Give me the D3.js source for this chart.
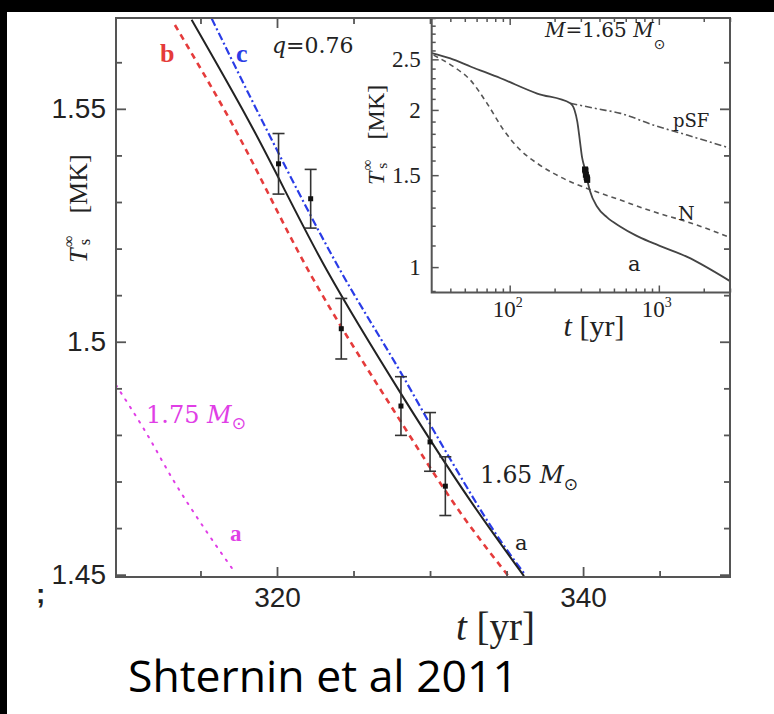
<!DOCTYPE html>
<html>
<head>
<meta charset="utf-8">
<script src="https://cdn.jsdelivr.net/npm/d3@7"></script>
<style>
  body { margin: 0; background: #fff; }
  svg { display: block; }
</style>
</head>
<body>
<svg id="chart" width="774" height="714"></svg>
<script>
// ---- Observations: age (yr), surface temperature (MK), 1-sigma error ----
const obsAge  = [320.1, 322.2, 324.2, 328.1, 330.0, 331.0];
const obsTemp = [1.5382, 1.5307, 1.5028, 1.4862, 1.4785, 1.4690];
const obsErr  = [0.0065, 0.0063, 0.0065, 0.0063, 0.0063, 0.0063];

// ---- Main panel cooling curves (q = 0.76) ----
// a: 1.65 Msun, solid black
const curveAAge  = [314.42, 318.12, 323.25, 328.15, 332.61, 336.14];
const curveATemp = [1.5691, 1.5476, 1.5154, 1.4886, 1.4660, 1.4497];
// b: dashed red
const curveBAge  = [313.33, 316.93, 322.27, 327.60, 332.18, 335.12];
const curveBTemp = [1.5680, 1.5476, 1.5140, 1.4854, 1.4624, 1.4497];
// c: dash-dot blue
const curveCAge  = [315.73, 319.22, 324.12, 328.00, 331.09, 334.58, 336.14];
const curveCTemp = [1.5694, 1.5462, 1.5154, 1.4939, 1.4761, 1.4574, 1.4503];
// a: 1.75 Msun, dotted magenta
const curveMAge  = [309.48, 311.48, 313.22, 315.18, 317.14];
const curveMTemp = [1.4907, 1.4803, 1.4703, 1.4603, 1.4510];

// Main panel ticks
const xMajorTicks = [320, 340];
const xMinorTicks = [315, 325, 330, 335, 345];
const yMajorTicks = [1.45, 1.50, 1.55];
const yMinorTicks = [1.46, 1.47, 1.48, 1.49, 1.51, 1.52, 1.53, 1.54, 1.56];

// ---- Inset: full cooling history, M = 1.65 Msun ----
const insetAAge  = [30, 40, 55, 87, 153, 255, 272, 284, 296, 306, 314, 320, 331, 345, 386, 450, 553, 700, 925, 1550, 3000];
const insetATemp = [2.57, 2.51, 2.42, 2.30, 2.15, 2.06, 2.00, 1.90, 1.74, 1.62, 1.57, 1.535, 1.47, 1.40, 1.305, 1.245, 1.195, 1.15, 1.11, 1.046, 0.94];
const insetPSFAge  = [255, 386, 553, 925, 1550, 3000];
const insetPSFTemp = [2.06, 2.01, 1.97, 1.87, 1.79, 1.69];
const insetNAge  = [30.9, 42.1, 54.5, 70.5, 91.1, 118, 153, 197, 255, 330, 553, 925, 1549, 3000];
const insetNTemp = [2.547, 2.419, 2.281, 2.059, 1.830, 1.675, 1.580, 1.512, 1.457, 1.415, 1.344, 1.276, 1.221, 1.140];

const insetXMajor = [100, 1000];
const insetXMinor = [40, 50, 60, 70, 80, 90, 200, 300, 400, 500, 600, 700, 800, 900, 2000, 3000];
const insetYMajor = [1, 1.5, 2, 2.5];
const insetYMinor = [0.9, 1.1, 1.2, 1.3, 1.4, 1.6, 1.7, 1.8, 1.9, 2.1, 2.2, 2.3, 2.4, 2.6, 2.7, 2.8, 2.9, 3.0];

// ---- Layout ----
const W = 774, H = 714;
const M = { left: 116, right: 730, top: 18, bottom: 577 };
const INS = { left: 431.7, right: 730, top: 18, bottom: 292.5 };

const AXIS = "#555";
const INK = "#222";
const RED = "#e53b3b", BLUE = "#2a3ce6", MAG = "#e03ee6";
const SANS = "'Liberation Sans', Arial, Helvetica, sans-serif";
const SERIF = "'Liberation Serif', 'Times New Roman', serif";
const WSERIF = "'DejaVu Serif', serif";
const SYM = "'DejaVu Sans', sans-serif";

const svg = d3.select("#chart");
svg.append("rect").attr("width", W).attr("height", H).attr("fill", "#fff");

const x = d3.scaleLinear().domain([309.48, 349.6]).range([M.left, M.right]);
const y = d3.scaleLinear().domain([1.4495, 1.5695]).range([M.bottom, M.top]);

svg.append("defs").append("clipPath").attr("id", "mainClip")
  .append("rect").attr("x", M.left).attr("y", M.top)
  .attr("width", M.right - M.left).attr("height", M.bottom - M.top);

// ---- Main panel curves ----
const zipPts = (a, b) => a.map((v, i) => [v, b[i]]);
const mainLine = d3.line().x(d => x(d[0])).y(d => y(d[1])).curve(d3.curveMonotoneX);
const curves = svg.append("g").attr("clip-path", "url(#mainClip)");

curves.append("path").datum(zipPts(curveMAge, curveMTemp)).attr("d", mainLine)
  .attr("fill", "none").attr("stroke", MAG).attr("stroke-width", 2)
  .attr("stroke-dasharray", "1.6 7").attr("stroke-linecap", "round");
curves.append("path").datum(zipPts(curveBAge, curveBTemp)).attr("d", mainLine)
  .attr("fill", "none").attr("stroke", RED).attr("stroke-width", 2.6)
  .attr("stroke-dasharray", "6 5");
curves.append("path").datum(zipPts(curveCAge, curveCTemp)).attr("d", mainLine)
  .attr("fill", "none").attr("stroke", BLUE).attr("stroke-width", 2.2)
  .attr("stroke-dasharray", "8 3 2 3");
curves.append("path").datum(zipPts(curveAAge, curveATemp)).attr("d", mainLine)
  .attr("fill", "none").attr("stroke", INK).attr("stroke-width", 2);

// ---- Observations with error bars ----
const obs = obsAge.map((t, i) => ({ t, T: obsTemp[i], e: obsErr[i] }));
const eb = svg.append("g").attr("stroke", "#333").attr("stroke-width", 1.6);
obs.forEach(d => {
  const cx = x(d.t), y0 = y(d.T - d.e), y1 = y(d.T + d.e);
  eb.append("line").attr("x1", cx).attr("x2", cx).attr("y1", y0).attr("y2", y1);
  eb.append("line").attr("x1", cx - 6).attr("x2", cx + 6).attr("y1", y0).attr("y2", y0);
  eb.append("line").attr("x1", cx - 6).attr("x2", cx + 6).attr("y1", y1).attr("y2", y1);
});
svg.append("g").selectAll("rect").data(obs).join("rect")
  .attr("x", d => x(d.t) - 2.5).attr("y", d => y(d.T) - 2.5)
  .attr("width", 5).attr("height", 5).attr("fill", "#111");

// ---- Main axes (ticks point inward) ----
function styleAxis(g) {
  g.select(".domain").remove();
  g.selectAll(".tick line").attr("stroke", AXIS).attr("stroke-width", 1.8);
  g.selectAll(".tick text").attr("fill", INK).attr("font-family", SANS).attr("font-size", 28);
}
const fmtY = d => d3.format(".2~f")(d);

svg.append("g").attr("transform", `translate(${M.left},0)`)
  .call(d3.axisLeft(y).tickValues(yMinorTicks).tickSize(-6).tickFormat(""))
  .call(styleAxis);
svg.append("g").attr("transform", `translate(${M.left},0)`)
  .call(d3.axisLeft(y).tickValues(yMajorTicks).tickSize(-10).tickPadding(10).tickFormat(fmtY))
  .call(styleAxis);
svg.append("g").attr("transform", `translate(0,${M.bottom})`)
  .call(d3.axisBottom(x).tickValues(xMinorTicks).tickSize(-6).tickFormat(""))
  .call(styleAxis);
svg.append("g").attr("transform", `translate(0,${M.bottom})`)
  .call(d3.axisBottom(x).tickValues(xMajorTicks).tickSize(-10).tickPadding(10).tickFormat(d3.format("d")))
  .call(styleAxis);
svg.append("g").attr("transform", `translate(0,${M.top})`)
  .call(d3.axisTop(x).tickValues(xMinorTicks).tickSize(-6).tickFormat(""))
  .call(styleAxis);
svg.append("g").attr("transform", `translate(0,${M.top})`)
  .call(d3.axisTop(x).tickValues(xMajorTicks).tickSize(-10).tickFormat(""))
  .call(styleAxis);

// ---- Main annotations ----
function sunLabel(g, px, py, num, size, color, sunSize, sunDy) {
  const t = g.append("text").attr("x", px).attr("y", py)
    .attr("font-family", WSERIF).attr("font-size", size).attr("fill", color);
  t.append("tspan").text(num + " ");
  t.append("tspan").attr("font-style", "italic").text("M");
  t.append("tspan").attr("font-family", SYM).attr("font-size", sunSize).attr("dy", sunDy).text("\u2299");
  return t;
}
const ann = svg.append("g");
ann.append("text").attr("x", 160).attr("y", 62).attr("font-family", SERIF)
  .attr("font-weight", "bold").attr("font-size", 26).attr("fill", RED).text("b");
ann.append("text").attr("x", 236).attr("y", 62).attr("font-family", SERIF)
  .attr("font-weight", "bold").attr("font-size", 26).attr("fill", BLUE).text("c");
const qt = ann.append("text").attr("x", 272).attr("y", 53).attr("font-family", WSERIF)
  .attr("font-size", 22).attr("fill", INK);
qt.append("tspan").attr("font-style", "italic").text("q");
qt.append("tspan").text("=0.76");

sunLabel(ann, 146, 423, "1.75", 24, MAG, 17, 6);
ann.append("text").attr("x", 230).attr("y", 541).attr("font-family", SERIF)
  .attr("font-weight", "bold").attr("font-size", 23).attr("fill", MAG).text("a");
sunLabel(ann, 480, 483, "1.65", 23.5, INK, 17, 7);
ann.append("text").attr("x", 515).attr("y", 550).attr("font-family", WSERIF)
  .attr("font-size", 21).attr("fill", INK).text("a");

// Rotated "T_s^inf [MK]" axis title
function tempTitle(g, bx, by, size) {
  const r = g.append("g").attr("transform", `translate(${bx},${by}) rotate(-90)`)
    .attr("font-family", SERIF).attr("fill", INK);
  r.append("text").attr("x", 0).attr("y", 0).attr("font-size", size)
    .attr("font-style", "italic").text("T");
  r.append("text").attr("x", size * 0.62).attr("y", -size * 0.5).attr("font-size", size * 0.62).text("\u221E");
  r.append("text").attr("x", size * 0.68).attr("y", size * 0.12).attr("font-size", size * 0.64).text("s");
  r.append("text").attr("x", size * 1.9).attr("y", 0).attr("font-size", size).text("[MK]");
}
tempTitle(svg, 87, 263, 26);

const xt = svg.append("text").attr("x", 456).attr("y", 640)
  .attr("font-family", SERIF).attr("font-size", 39).attr("fill", INK);
xt.append("tspan").attr("font-style", "italic").text("t");
xt.append("tspan").text(" [yr]");

// ---- Inset ----
const xi = d3.scaleLog().domain([30, 3000]).range([INS.left, INS.right]);
const yi = d3.scaleLog().domain([0.894, 3]).range([INS.bottom, INS.top]);
const inset = svg.append("g");
inset.append("rect").attr("x", INS.left).attr("y", INS.top)
  .attr("width", INS.right - INS.left).attr("height", INS.bottom - INS.top).attr("fill", "#fff");

svg.append("defs").append("clipPath").attr("id", "insetClip")
  .append("rect").attr("x", INS.left).attr("y", INS.top)
  .attr("width", INS.right - INS.left).attr("height", INS.bottom - INS.top);
const insetLine = d3.line().x(d => xi(d[0])).y(d => yi(d[1])).curve(d3.curveMonotoneX);
const ic = inset.append("g").attr("clip-path", "url(#insetClip)");
ic.append("path").datum(zipPts(insetNAge, insetNTemp)).attr("d", insetLine)
  .attr("fill", "none").attr("stroke", "#555").attr("stroke-width", 1.6).attr("stroke-dasharray", "5 4");
ic.append("path").datum(zipPts(insetPSFAge, insetPSFTemp)).attr("d", insetLine)
  .attr("fill", "none").attr("stroke", "#555").attr("stroke-width", 1.6).attr("stroke-dasharray", "7 3 2 3");
ic.append("path").datum(zipPts(insetAAge, insetATemp)).attr("d", insetLine)
  .attr("fill", "none").attr("stroke", "#444").attr("stroke-width", 1.8);
ic.append("g").selectAll("rect").data(obs).join("rect")
  .attr("x", d => xi(d.t) - 3).attr("y", d => yi(d.T) - 3)
  .attr("width", 6).attr("height", 6).attr("fill", "#111");

function styleInsetAxis(g) {
  g.select(".domain").remove();
  g.selectAll(".tick line").attr("stroke", AXIS).attr("stroke-width", 1.5);
  g.selectAll(".tick text").attr("fill", INK).attr("font-family", SERIF).attr("font-size", 23);
}
inset.append("g").attr("transform", `translate(${INS.left},0)`)
  .call(d3.axisLeft(yi).tickValues(insetYMinor).tickSize(-4).tickFormat(""))
  .call(styleInsetAxis);
inset.append("g").attr("transform", `translate(${INS.left},0)`)
  .call(d3.axisLeft(yi).tickValues(insetYMajor).tickSize(-7).tickPadding(11).tickFormat(d3.format("~g")))
  .call(styleInsetAxis);
inset.append("g").attr("transform", `translate(0,${INS.bottom})`)
  .call(d3.axisBottom(xi).tickValues(insetXMinor).tickSize(-4).tickFormat(""))
  .call(styleInsetAxis);
inset.append("g").attr("transform", `translate(0,${INS.bottom})`)
  .call(d3.axisBottom(xi).tickValues(insetXMajor).tickSize(-7).tickFormat(""))
  .call(styleInsetAxis);
inset.append("g").attr("transform", `translate(0,${INS.top})`)
  .call(d3.axisTop(xi).tickValues(insetXMinor).tickSize(-4).tickFormat(""))
  .call(styleInsetAxis);
inset.append("g").attr("transform", `translate(0,${INS.top})`)
  .call(d3.axisTop(xi).tickValues(insetXMajor).tickSize(-7).tickFormat(""))
  .call(styleInsetAxis);
// decade labels 10^2, 10^3
insetXMajor.forEach(v => {
  const t = inset.append("text").attr("x", xi(v) - 2).attr("y", INS.bottom + 24)
    .attr("text-anchor", "middle").attr("font-family", SERIF).attr("font-size", 23).attr("fill", INK);
  t.append("tspan").text("10");
  t.append("tspan").attr("font-size", 14).attr("dy", -10).text(String(Math.round(Math.log10(v))));
});
// inset frame
inset.append("path")
  .attr("d", `M${INS.left},${INS.top}V${INS.bottom}H${INS.right}`)
  .attr("fill", "none").attr("stroke", AXIS).attr("stroke-width", 2);

tempTitle(inset, 384, 185, 24);
const xit = inset.append("text").attr("x", 594).attr("y", 336).attr("text-anchor", "middle")
  .attr("font-family", SERIF).attr("font-size", 30).attr("fill", INK);
xit.append("tspan").attr("font-style", "italic").text("t");
xit.append("tspan").text(" [yr]");

const mt = inset.append("text").attr("x", 545).attr("y", 37)
  .attr("font-family", WSERIF).attr("font-size", 20).attr("fill", INK);
mt.append("tspan").attr("font-style", "italic").text("M");
mt.append("tspan").text("=1.65 ");
mt.append("tspan").attr("font-style", "italic").text("M");
mt.append("tspan").attr("font-family", SYM).attr("font-size", 14).attr("dy", 12).text("\u2299");

inset.append("text").attr("x", 673).attr("y", 127).attr("font-family", WSERIF)
  .attr("font-size", 18).attr("fill", INK).text("pSF");
inset.append("text").attr("x", 678).attr("y", 220).attr("font-family", WSERIF)
  .attr("font-size", 19).attr("fill", INK).text("N");
inset.append("text").attr("x", 628).attr("y", 271).attr("font-family", WSERIF)
  .attr("font-size", 21).attr("fill", INK).text("a");

// ---- Main right axis (drawn over the inset) and outer frame ----
svg.append("g").attr("transform", `translate(${M.right},0)`)
  .call(d3.axisRight(y).tickValues(yMinorTicks).tickSize(-6).tickFormat(""))
  .call(styleAxis);
svg.append("g").attr("transform", `translate(${M.right},0)`)
  .call(d3.axisRight(y).tickValues(yMajorTicks).tickSize(-10).tickFormat(""))
  .call(styleAxis);
svg.append("rect").attr("x", M.left).attr("y", M.top)
  .attr("width", M.right - M.left).attr("height", M.bottom - M.top)
  .attr("fill", "none").attr("stroke", AXIS).attr("stroke-width", 2);

// stray glyph at lower-left margin
svg.append("text").attr("x", 36).attr("y", 603).attr("font-family", SANS)
  .attr("font-weight", "bold").attr("font-size", 28).attr("fill", INK).text(";");

// citation
svg.append("text").attr("x", 128).attr("y", 692)
  .attr("font-family", "'Open Sans', sans-serif").attr("font-size", 44).attr("fill", "#000")
  .attr("textLength", 390).attr("lengthAdjust", "spacingAndGlyphs")
  .text("Shternin et al 2011");

// dark border bands
svg.append("rect").attr("x", 0).attr("y", 0).attr("width", W).attr("height", 12).attr("fill", "#000");
svg.append("rect").attr("x", 0).attr("y", 0).attr("width", 7).attr("height", H).attr("fill", "#000");
</script>
</body>
</html>
